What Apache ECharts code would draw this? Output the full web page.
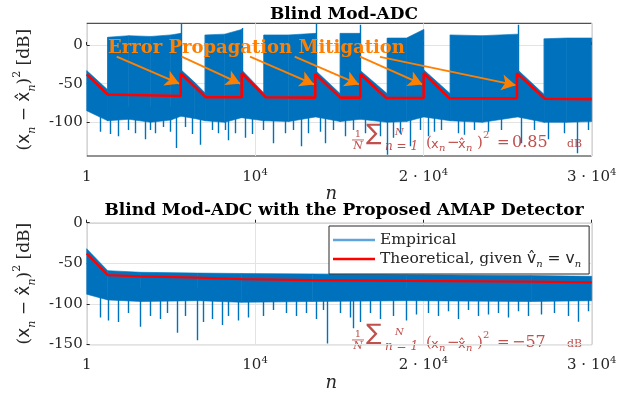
<!DOCTYPE html>
<html>
<head>
<meta charset="utf-8">
<script src="https://cdn.jsdelivr.net/npm/echarts@6/dist/echarts.min.js"></script>
<style>
html, body { margin: 0; padding: 0; background: #fff; }
#chart { width: 634px; height: 393px; }
</style>
</head>
<body>
<div id="chart"></div>
<script>
// ---- data ----
const xTicks = [1, 10000, 20000, 30000];
const yTicksTop = [-100, -50, 0];
const yTicksBottom = [-150, -100, -50, 0];

// theoretical MSE, blind Mod-ADC (top)
const theoNTop = [1, 1250, 5584, 5584, 7069, 9207, 9207, 10633, 13580, 13580, 15065, 16253, 16253, 17797, 20018, 20018, 21538, 25560, 25560, 27224, 30000];
const theoDbTop = [-38, -64, -66, -36.6, -67.6, -67.6, -36.6, -67.6, -68, -37.5, -68, -68, -37.5, -68.5, -68.5, -36.6, -68.7, -69, -36.6, -69.6, -70];

// empirical envelope (top)
const empNTop = [1, 1250, 1250, 2500, 3800, 5000, 5600, 5600, 6400, 7040, 7040, 8200, 9200, 9200, 10530, 10530, 12000, 13600, 13600, 15065, 15065, 16253, 16253, 17860, 17860, 19000, 20018, 20018, 21600, 21600, 23500, 25600, 25600, 27180, 27180, 28500, 30000];
const empHiTop = [-33, -58, 10, 12, 11, 13, 15, -32, -48, -62, 13, 14, 20, -32, -62, 13, 13, 15, -33, -63, 15, 15, -33, -63, 9, 9, 20, -32, -63, 13, 12, 14, -32, -64, 8, 9, 9];
const empLoTop = [-85, -98, -98, -96, -100, -97, -92, -92, -95, -98, -98, -100, -94, -94, -98, -98, -99, -93, -93, -99, -99, -96, -96, -100, -100, -99, -93, -93, -98, -98, -100, -93, -93, -100, -100, -100, -99];

// isolated spikes (top)
const spikeNTop = [790, 1380, 1860, 2450, 2870, 3460, 3760, 4060, 4530, 4950, 5300, 5840, 6250, 6730, 7440, 7800, 8220, 8400, 8810, 9400, 9820,
  10470, 11070, 11760, 12250, 12750, 13150, 13840, 14140, 14630, 15320, 15820, 16510, 17400, 17840, 18200, 18590, 19190, 19780,
  20255, 20650, 21045, 22040, 22430, 23020, 23820, 24610, 25800, 26590, 27380, 28370, 29100, 29760,
  5600, 9200, 13600, 16253, 25600];
const spikeDbTop = [-112, -115, -118, -110, -114, -122, -110, -114, -106, -112, -133, -106, -115, -129, -110, -114, -110, -123, -114, -120, -115,
  -110, -127, -114, -110, -131, -114, -112, -127, -110, -118, -110, -114, -118, -142, -120, -114, -131, -110,
  -118, -112, -110, -114, -116, -110, -112, -110, -127, -110, -122, -114, -140, -110,
  28, 22, 28, 26, 26];

// theoretical MSE with AMAP detector (bottom)
const theoNBot = [1, 1250, 3200, 3200, 6600, 6600, 9200, 9200, 13400, 13400, 18900, 18900, 26400, 26400, 30000];
const theoDbBot = [-38, -64.5, -66, -67, -67.5, -69, -69.5, -70.3, -70.6, -71.3, -71.6, -72.1, -72.4, -73.4, -73.5];

// empirical envelope (bottom)
const empNBot = [1, 1250, 3200, 6600, 9200, 13400, 19000, 26400, 30000];
const empHiBot = [-32, -59, -61, -62, -62.5, -63, -64, -65, -66];
const empLoBot = [-88, -95, -97, -96, -98, -97, -96, -97, -96];

// isolated spikes (bottom)
const spikeNBot = [790, 1285, 1880, 2470, 3170, 3760, 4350, 4750, 5350, 5840, 6530, 6930, 7420, 8020, 8410, 9000, 9600,
  10470, 11070, 11860, 12450, 13040, 13640, 14040, 14270, 15030, 15620, 15820, 16220, 16810, 17400, 18190, 18990, 19580,
  20250, 20850, 21440, 22040, 22630, 23230, 23820, 24410, 25010, 25600, 26200, 26990, 27780, 28570, 29170, 29760];
const spikeDbBot = [-116.7, -120.4, -122.3, -111, -128, -114.8, -118.6, -111, -135.5, -114.8, -144.8, -122.3, -118.6, -126, -114.8, -120.4, -116.7,
  -114.8, -107.3, -111, -114.8, -111, -118.6, -107.3, -148.6, -111, -116.7, -130, -122.3, -111, -118.6, -114.8, -120.4, -112.9,
  -111, -114.8, -109, -118.6, -107.3, -114.8, -112.9, -111, -116.7, -109, -114.8, -112.9, -111, -114.8, -122, -109];

// arrows: "Error Propagation Mitigation"
const arrowFrom = [[1783, -15], [5644, -15], [9700, -15], [12355, -15], [16235, -15], [17423, -15.5]];
const arrowTo = [[5500, -50], [9120, -50], [13500, -51], [16170, -51], [19940, -51], [25480, -52]];

// ---- styling ----
const BLUE = '#0072BD';
const RED = '#ff0000';
const ORANGE = '#ff8000';
const ANNO = '#c0504d';
const SERIF = '"DejaVu Serif", serif';
const SANS = '"DejaVu Sans", sans-serif';
const INK = '#262626';

const chart = echarts.init(document.getElementById('chart'));

function bandSeries(gi, ns, his, los) {
  return {
    type: 'custom', name: 'Empirical', xAxisIndex: gi, yAxisIndex: gi,
    silent: true, clip: true, z: 2,
    encode: { x: 0, y: [1, 2] },
    data: ns.map((n, i) => [n, his[i], los[i]]),
    renderItem(params, api) {
      const i = params.dataIndex;
      if (i >= ns.length - 1) return null;
      const pts = [
        api.coord([ns[i], his[i]]), api.coord([ns[i + 1], his[i + 1]]),
        api.coord([ns[i + 1], los[i + 1]]), api.coord([ns[i], los[i]])
      ];
      return { type: 'polygon', shape: { points: pts }, style: { fill: BLUE, stroke: BLUE, lineWidth: 0.6 } };
    }
  };
}

function spikeSeries(gi, ns, dbs) {
  return {
    type: 'custom', name: 'Empirical', xAxisIndex: gi, yAxisIndex: gi,
    silent: true, clip: true, z: 2,
    data: ns.map((n, i) => [n, dbs[i]]),
    renderItem(params, api) {
      const a = api.coord([api.value(0), api.value(1)]);
      const b = api.coord([api.value(0), -80]);
      const x = Math.round(a[0]) + 0.5;
      return { type: 'line', shape: { x1: x, y1: a[1], x2: x, y2: b[1] }, style: { stroke: BLUE, lineWidth: 1.4 } };
    }
  };
}

function xLabel(v) {
  if (v === 1) return '{a|1}';
  const k = Math.round(v / 10000);
  return k === 1 ? '{a|10}{s|4}' : '{a|' + k + ' · 10}{s|4}';
}

const tickRich = {
  a: { fontFamily: SERIF, fontSize: 15, color: INK, lineHeight: 20 },
  s: { fontFamily: SERIF, fontSize: 10, color: INK, lineHeight: 10, verticalAlign: 'top' }
};

const yNameText = '{p|(}{x|x}{s|n}{p| − }{x|x̂}{s|n}{p|)}{u|2}{p| [dB]}';
const yNameRich = {
  p: { fontFamily: SERIF, fontSize: 17, color: INK, lineHeight: 26 },
  x: { fontFamily: SANS, fontSize: 17, color: INK, lineHeight: 26 },
  s: { fontFamily: SERIF, fontStyle: 'italic', fontSize: 11, color: INK, lineHeight: 12, verticalAlign: 'bottom' },
  u: { fontFamily: SERIF, fontSize: 11, color: INK, lineHeight: 12, verticalAlign: 'top' }
};

function xAxisDef(gi) {
  return {
    type: 'value', gridIndex: gi, min: 1, max: 30000,
    name: 'n', nameLocation: 'middle', nameGap: 17,
    nameTextStyle: { fontFamily: SERIF, fontStyle: 'italic', fontSize: 18, color: INK, padding: [0, 16, 0, 0] },
    axisLine: { show: false },
    axisTick: { show: true, inside: true, length: 3, customValues: xTicks, lineStyle: { color: INK } },
    axisLabel: { customValues: xTicks, formatter: xLabel, margin: 11, rich: tickRich, color: INK },
    splitLine: { show: true, lineStyle: { color: '#e3e3e3', width: 1 } }
  };
}

function yAxisDef(gi, min, max, ticks) {
  return {
    type: 'value', gridIndex: gi, min: min, max: max,
    name: yNameText, nameLocation: 'middle', nameGap: 49, nameRotate: 90,
    nameTextStyle: { rich: yNameRich },
    axisLine: { show: false },
    axisTick: { show: true, inside: true, length: 3, customValues: ticks, lineStyle: { color: INK } },
    axisLabel: { customValues: ticks, margin: 4, fontFamily: SERIF, fontSize: 15, color: INK },
    splitLine: { show: true, lineStyle: { color: '#e3e3e3', width: 1 } }
  };
}

// one piece of the red annotation, placed relative to its group
function piece(text, x, y, size, family, italic, align) {
  return {
    type: 'text', x: x, y: y,
    style: { text: text, fontFamily: family, fontSize: size, fontStyle: italic ? 'italic' : 'normal', fill: ANNO, align: align || 'left' }
  };
}

function annoGroup(x, y, valueText) {
  return {
    type: 'group', x: x, y: y, z: 50, silent: true,
    children: [
      piece('1', 6, 1, 10, SERIF, false, 'center'),
      { type: 'rect', shape: { x: 0, y: 11.5, width: 12, height: 0.9 }, style: { fill: ANNO } },
      piece('N', 6, 13, 11, SERIF, true, 'center'),
      piece('∑', 14, -5, 23, SANS, false),
      piece('N', 43, -1, 10, SERIF, true),
      piece('n = 1', 33, 13, 12, SERIF, true),
      piece('(', 74, 8, 15, SERIF, false),
      piece('x', 79, 10, 13, SANS, false),
      piece('n', 87, 15, 10, SERIF, true),
      piece('−', 95, 8, 15, SERIF, false),
      piece('x̂', 106, 10, 13, SANS, false),
      piece('n', 114, 15, 10, SERIF, true),
      piece(')', 125, 8, 15, SERIF, false),
      piece('2', 131, 2, 10, SERIF, false),
      piece('=', 145, 8, 15, SERIF, false),
      piece(valueText, 160, 7, 16, SERIF, false),
      piece('dB', 215, 11, 11, SERIF, false)
    ]
  };
}

const option = {
  animation: false,
  backgroundColor: '#fff',
  title: [
    { text: 'Blind Mod-ADC', left: 339, top: 1, textAlign: 'center',
      textStyle: { fontFamily: SERIF, fontWeight: 'bold', fontSize: 17, color: '#000' } },
    { text: 'Blind Mod-ADC with the Proposed AMAP Detector', left: 339, top: 197, textAlign: 'center',
      textStyle: { fontFamily: SERIF, fontWeight: 'bold', fontSize: 17, color: '#000' } }
  ],
  grid: [
    { left: 86.7, top: 23.3, width: 505, height: 132.7, show: true, borderColor: INK, borderWidth: 1, backgroundColor: 'transparent' },
    { left: 86.7, top: 222.7, width: 505, height: 133.3, show: true, borderColor: INK, borderWidth: 1, backgroundColor: 'transparent' }
  ],
  xAxis: [xAxisDef(0), xAxisDef(1)],
  yAxis: [yAxisDef(0, -143.5, 28, yTicksTop), yAxisDef(1, -150, 0, yTicksBottom)],
  legend: {
    left: 329, top: 226, orient: 'vertical',
    backgroundColor: '#fff', borderColor: INK, borderWidth: 1, borderRadius: 0,
    padding: [6, 8, 5, 4], itemGap: 3, itemWidth: 42, itemHeight: 2.5,
    selectedMode: false,
    data: [
      { name: 'Empirical', icon: 'rect', itemStyle: { color: '#5fa5dc' } },
      { name: 'Theoretical', icon: 'rect', itemStyle: { color: RED } }
    ],
    formatter: function (name) {
      return name === 'Empirical' ? '{t|Empirical}' : '{t|Theoretical, given }{v|v̂}{s|n}{t| = }{v|v}{s|n}';
    },
    textStyle: {
      color: INK,
      rich: {
        t: { fontFamily: SERIF, fontSize: 15.5, color: INK, lineHeight: 20 },
        v: { fontFamily: SANS, fontSize: 15.5, color: INK, lineHeight: 20 },
        s: { fontFamily: SERIF, fontStyle: 'italic', fontSize: 10, color: INK, lineHeight: 10, verticalAlign: 'bottom' }
      }
    }
  },
  graphic: [
    { type: 'text', left: 108, top: 39, z: 50, silent: true,
      style: { text: 'Error Propagation Mitigation', fontFamily: SERIF, fontWeight: 'bold', fontSize: 18, fill: ORANGE } },
    annoGroup(352, 128, '0.85'),
    annoGroup(352, 328, '−57')
  ],
  series: [
    bandSeries(0, empNTop, empHiTop, empLoTop),
    spikeSeries(0, spikeNTop, spikeDbTop),
    {
      type: 'line', name: 'Theoretical', xAxisIndex: 0, yAxisIndex: 0, z: 5,
      showSymbol: false, silent: true,
      data: theoNTop.map((n, i) => [n, theoDbTop[i]]),
      lineStyle: { color: RED, width: 2.6 }, itemStyle: { color: RED },
      markLine: {
        silent: true, symbol: ['none', 'arrow'], symbolSize: [12, 14], animation: false,
        label: { show: false },
        lineStyle: { color: ORANGE, width: 1.8, type: 'solid' },
        emphasis: { disabled: true },
        data: arrowFrom.map((s, i) => [{ coord: s }, { coord: arrowTo[i] }])
      }
    },
    bandSeries(1, empNBot, empHiBot, empLoBot),
    spikeSeries(1, spikeNBot, spikeDbBot),
    {
      type: 'line', name: 'Theoretical', xAxisIndex: 1, yAxisIndex: 1, z: 5,
      showSymbol: false, silent: true,
      data: theoNBot.map((n, i) => [n, theoDbBot[i]]),
      lineStyle: { color: RED, width: 2.2 }, itemStyle: { color: RED }
    }
  ]
};

chart.setOption(option);
</script>
</body>
</html>
